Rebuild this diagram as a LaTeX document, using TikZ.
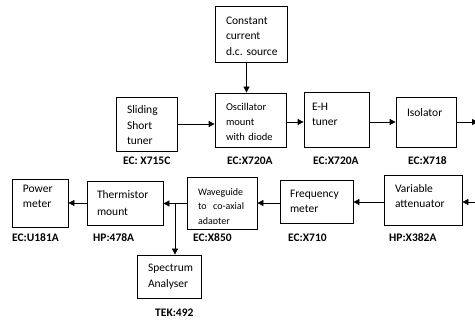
\documentclass[tikz,border=0pt]{standalone}
\usepackage{fontspec}
\setmainfont{Carlito}
\usetikzlibrary{arrows.meta,positioning}

\begin{document}
\begin{tikzpicture}[
    x=1pt, y=-1pt,
    blk/.style={
        draw,
        line width=0.8pt,
        align=left,
        inner ysep=3pt,
        inner xsep=11pt,
        font={\fontsize{11.5}{15.5}\selectfont\hyphenpenalty=10000 \exhyphenpenalty=10000 }
    },
    tag/.style={
        font=\bfseries\fontsize{11.5}{13}\selectfont,
        inner sep=0pt,
        anchor=west
    },
    arr/.style={-{Triangle[length=6pt,width=6pt]}, line width=0.8pt}
]
    \useasboundingbox (0,0) rectangle (475,323);

    %% Upper row
    \node[blk, text width=50pt, minimum height=56pt, text depth=27pt] (dcsrc) at (251,34) {Constant\\current\\d.c.~source};
    \node[blk, text width=39pt, minimum height=54pt, text depth=28pt] (short) at (146.5,124) {Sliding\\Short\\tuner};
    \node[blk, text width=49pt, minimum height=54pt, text depth=27pt,
          font=\fontsize{10.5}{15}\selectfont] (osc) at (250.5,120) {Oscillator\\mount\\with~diode};
    \node[blk, inner xsep=8pt, text width=49pt, minimum height=55pt, text depth=25.5pt] (ehtuner) at (336.5,119.5) {E-H\\tuner};
    \node[blk, text width=38pt, minimum height=50pt, text depth=18pt] (iso) at (426,122) {Isolator};

    \node[tag] (short-id) at (123,161) {EC: X715C};
    \node[tag] (osc-id) at (227,161) {EC:X720A};
    \node[tag] (ehtuner-id) at (313,161) {EC:X720A};
    \node[tag] (iso-id) at (408,161) {EC:X718};

    %% Lower row
    \node[blk, text width=34pt, minimum height=48pt, text depth=28.5pt] (pwr) at (40,203) {Power\\meter};
    \node[blk, inner xsep=10pt, text width=56pt, minimum height=44pt,
          font=\fontsize{11.5}{17.3}\selectfont] (therm) at (125,203) {Thermistor\\mount};
    % adapter text runs past the bottom edge, so it is clipped
    \begin{scope}
        \clip (180,170) rectangle (265,223.5);
        \node[blk, draw=none, inner xsep=10pt, text width=49pt, minimum height=51pt, text depth=23.4pt,
              font=\fontsize{10}{14.5}\selectfont] (wg) at (222.5,203.5) {Waveguide\\to~~co-axial\\adapter};
    \end{scope}
    \draw[line width=0.8pt] (wg.south west) rectangle (wg.north east);
    \node[blk, inner xsep=10pt, text width=53pt, minimum height=43pt] (freq) at (316.5,201.5) {Frequency\\meter};
    \node[blk, text width=56pt, minimum height=50pt, text depth=23.5pt] (att) at (423,200) {Variable\\attenuator};
    \node[blk, text width=42pt, minimum height=43pt] (spec) at (169,276.5) {Spectrum\\Analyser};

    \node[tag] (pwr-id) at (12,237.5) {EC:U181A};
    \node[tag] (therm-id) at (93,237.5) {HP:478A};
    \node[tag] (wg-id) at (193,237.5) {EC:X850};
    \node[tag] (freq-id) at (288,237.5) {EC:X710};
    \node[tag] (att-id) at (389,237.5) {HP:X382A};
    \node[tag] (spec-id) at (155,313) {TEK:492};

    %% Signal path
    \coordinate (isoout) at (478,122);
    \coordinate (attin) at (476,202);

    \draw[arr] ([xshift=-4.5pt]dcsrc.south) -- ([xshift=-4.5pt]dcsrc.south |- osc.north);
    \draw[arr] (short) -- (short -| osc.west);
    \draw[arr] ([yshift=-2pt]osc.east) -- ([yshift=-2pt]osc.east -| ehtuner.west);
    \draw[arr] (ehtuner.east |- iso) -- (iso.west);
    \draw[arr] (iso.east) -- (isoout);
    \draw[arr] (attin) -- (attin -| att.east);
    \draw[arr] ([yshift=-2pt]att.west) -- ([yshift=-2pt]att.west -| freq.east);
    \draw[arr] ([yshift=-1.5pt]freq.west) -- ([yshift=-1.5pt]freq.west -| wg.east);
    \draw[arr] (wg) -- (wg -| therm.east);
    \draw[arr] ([xshift=6pt]spec.north |- wg.west) -- ([xshift=6pt]spec.north);
    \draw[arr] (therm) -- (therm -| pwr.east);
\end{tikzpicture}
\end{document}
